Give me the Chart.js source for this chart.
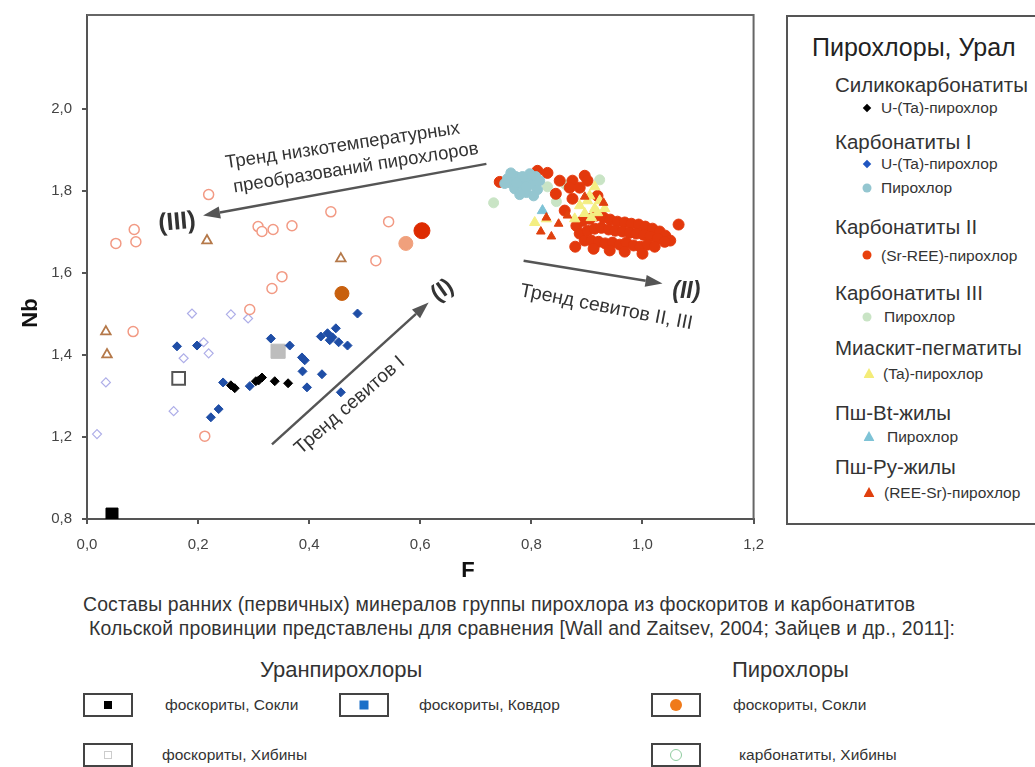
<!DOCTYPE html>
<html>
<head>
<meta charset="utf-8">
<script src="https://cdn.jsdelivr.net/npm/chart.js@4.4.1/dist/chart.umd.min.js"></script>
<style>
body { margin:0; background:#fff; width:1035px; height:767px; overflow:hidden; position:relative;
       font-family:"Liberation Sans", Arial, sans-serif; color:#222; }
#wrap { position:absolute; left:0; top:-4px; width:776px; height:594px; }
.abs { position:absolute; white-space:nowrap; line-height:1; transform:translateY(-50%); }
.lgbox { position:absolute; left:786px; top:15px; width:300px; height:510px; border:2px solid #555; box-sizing:border-box; }
.ttl { font-size:25px; color:#222; }
.grp { font-size:20.5px; color:#333; }
.itm { font-size:15.5px; color:#333; }
.mk { position:absolute; transform:translate(-50%,-50%); }
.dia { width:6px; height:6px; transform:translate(-50%,-50%) rotate(45deg); }
.cir { width:9px; height:9px; border-radius:50%; }
.tri { width:11px; height:10px; clip-path:polygon(50% 0,100% 100%,0 100%); }
.cap { font-size:19.4px; color:#333; letter-spacing:0.15px; }
.hd { font-size:22px; color:#333; }
.bl { font-size:15.5px; color:#333; }
.bx { position:absolute; width:50px; height:24px; border:2px solid #444; box-sizing:border-box; background:#fff; }
</style>
</head>
<body>
<div id="wrap"><canvas id="grafico"></canvas></div>

<!-- легенда справа -->
<div class="lgbox"></div>
<div class="abs ttl" style="left:812px;top:47px">Пирохлоры, Урал</div>
<div class="abs grp" style="left:835px;top:85px">Силикокарбонатиты</div>
<div class="mk dia" style="left:867px;top:108px;background:#000"></div>
<div class="abs itm" style="left:881px;top:108px">U-(Ta)-пирохлор</div>
<div class="abs grp" style="left:835px;top:142px">Карбонатиты I</div>
<div class="mk dia" style="left:867px;top:164px;background:#1f55c0"></div>
<div class="abs itm" style="left:881px;top:164px">U-(Ta)-пирохлор</div>
<div class="mk cir" style="left:867px;top:188px;background:#94c6d0"></div>
<div class="abs itm" style="left:881px;top:188px">Пирохлор</div>
<div class="abs grp" style="left:835px;top:227px">Карбонатиты II</div>
<div class="mk cir" style="left:867px;top:255px;background:#e8400c"></div>
<div class="abs itm" style="left:881px;top:256px">(Sr-REE)-пирохлор</div>
<div class="abs grp" style="left:835px;top:293px">Карбонатиты III</div>
<div class="mk cir" style="left:867px;top:317px;background:#c9e4c5"></div>
<div class="abs itm" style="left:884px;top:317px">Пирохлор</div>
<div class="abs grp" style="left:835px;top:348px">Миаскит-пегматиты</div>
<div class="mk tri" style="left:869px;top:373px;background:#f4ec78"></div>
<div class="abs itm" style="left:883px;top:374px">(Ta)-пирохлор</div>
<div class="abs grp" style="left:835px;top:413px">Пш-Bt-жилы</div>
<div class="mk tri" style="left:869px;top:436px;background:#7ec3d6"></div>
<div class="abs itm" style="left:887px;top:437px">Пирохлор</div>
<div class="abs grp" style="left:835px;top:467px">Пш-Ру-жилы</div>
<div class="mk tri" style="left:869px;top:492px;background:#e0400e"></div>
<div class="abs itm" style="left:884px;top:493px">(REE-Sr)-пирохлор</div>

<!-- подпись и легенда снизу -->
<div class="abs cap" style="left:83px;top:605px">Составы ранних (первичных) минералов группы пирохлора из фоскоритов и карбонатитов</div>
<div class="abs cap" style="left:89px;top:629px">Кольской провинции представлены для сравнения [Wall and Zaitsev, 2004; Зайцев и др., 2011]:</div>
<div class="abs hd" style="left:260px;top:670px">Уранпирохлоры</div>
<div class="abs hd" style="left:732px;top:670px">Пирохлоры</div>

<div class="bx" style="left:83px;top:693px"></div>
<div class="mk" style="left:108px;top:705px;width:8px;height:8px;background:#000"></div>
<div class="abs bl" style="left:165px;top:705px">фоскориты, Сокли</div>
<div class="bx" style="left:339px;top:693px"></div>
<div class="mk" style="left:364px;top:705px;width:9px;height:9px;background:#1a6fc8"></div>
<div class="abs bl" style="left:419px;top:705px">фоскориты, Ковдор</div>
<div class="bx" style="left:83px;top:743px"></div>
<div class="mk" style="left:108px;top:755px;width:8px;height:8px;border:1px solid #ccc;box-sizing:border-box"></div>
<div class="abs bl" style="left:162px;top:755px">фоскориты, Хибины</div>
<div class="bx" style="left:651px;top:693px"></div>
<div class="mk cir" style="left:676px;top:705px;width:12px;height:12px;background:#f07a1a"></div>
<div class="abs bl" style="left:733px;top:705px">фоскориты, Сокли</div>
<div class="bx" style="left:651px;top:743px"></div>
<div class="mk cir" style="left:676px;top:755px;width:12px;height:12px;border:1.5px solid #8fcc9f;box-sizing:border-box"></div>
<div class="abs bl" style="left:739px;top:755px">карбонатиты, Хибины</div>

<script>
// Шкалы
const xTicks = [0, 0.2, 0.4, 0.6, 0.8, 1.0, 1.2];
const xTickLabels = ['0,0', '0,2', '0,4', '0,6', '0,8', '1,0', '1,2'];
const yTicks = [1.0, 1.2, 1.4, 1.6, 1.8, 2.0];
const yTickLabels = ['0,8', '1,2', '1,4', '1,6', '1,8', '2,0'];

// Урал: [F, Nb]
const siliUTa = [[0.266,1.319],[0.259,1.326],[0.309,1.338],[0.315,1.345],[0.304,1.336],[0.338,1.336],[0.362,1.331]];
const carbIUTa = [[0.162,1.421],[0.198,1.423],[0.245,1.333],[0.293,1.324],[0.223,1.248],[0.237,1.268],[0.331,1.440],
  [0.365,1.423],[0.387,1.394],[0.392,1.387],[0.388,1.360],[0.396,1.321],[0.423,1.353],[0.457,1.309],[0.421,1.445],
  [0.433,1.453],[0.448,1.465],[0.437,1.436],[0.442,1.443],[0.453,1.431],[0.469,1.423],[0.487,1.501]];
const carbIPyr = [[0.757,1.830],[0.764,1.818],[0.772,1.835],[0.779,1.825],[0.786,1.813],[0.770,1.805],[0.793,1.827],
  [0.800,1.815],[0.808,1.835],[0.791,1.796],[0.779,1.791],[0.811,1.803],[0.763,1.844],[0.797,1.842],[0.815,1.825],
  [0.784,1.835],[0.804,1.788],[0.773,1.820],[0.790,1.810],[0.752,1.818]];
const carbIIPyr = [[0.743,1.822],[0.811,1.849],[0.829,1.844],[0.851,1.825],[0.874,1.825],[0.896,1.837],[0.901,1.825],
  [0.844,1.793],[0.869,1.808],[0.887,1.808],[0.874,1.781],[0.919,1.788],[0.860,1.752],
  [0.881,1.715],[0.892,1.727],[0.905,1.732],[0.917,1.740],[0.930,1.735],[0.942,1.730],[0.955,1.725],[0.968,1.723],
  [0.980,1.720],[0.993,1.718],[1.005,1.713],[1.018,1.708],[1.031,1.701],[1.041,1.691],[1.050,1.679],[1.065,1.718],
  [0.887,1.696],[0.901,1.703],[0.914,1.708],[0.926,1.710],[0.939,1.706],[0.951,1.703],[0.964,1.701],[0.977,1.698],
  [0.989,1.696],[1.002,1.693],[1.014,1.689],[1.027,1.684],[1.040,1.676],
  [0.879,1.664],[0.896,1.679],[0.908,1.679],[0.921,1.676],[0.933,1.672],[0.946,1.674],[0.959,1.669],[0.971,1.674],
  [0.984,1.667],[0.996,1.664],[1.009,1.669],[1.022,1.664],[1.000,1.647],[0.968,1.652],[0.941,1.655],[0.912,1.659]];
const carbIIIPyr = [[0.732,1.771],[0.923,1.827],[0.845,1.774],[0.862,1.815],[0.829,1.810]];
const miaskTa = [[0.887,1.764],[0.901,1.776],[0.914,1.757],[0.923,1.776],[0.896,1.745],[0.908,1.735],[0.919,1.747],
  [0.878,1.732],[0.905,1.788],[0.914,1.810],[0.806,1.723],[0.827,1.732],[0.932,1.757]];
const pshBtPyr = [[0.820,1.752]];
const pshPyREE = [[0.817,1.701],[0.836,1.689],[0.849,1.720],[0.827,1.735],[0.930,1.771],[0.896,1.786],[0.865,1.740]];

// Кольская провинция
const kolaOpenCircles = [[0.219,1.791],[0.085,1.706],[0.052,1.672],[0.088,1.676],[0.308,1.713],[0.315,1.701],
  [0.335,1.706],[0.369,1.715],[0.439,1.749],[0.543,1.725],[0.520,1.630],[0.351,1.591],[0.333,1.562],[0.293,1.511],
  [0.083,1.457],[0.212,1.202]];
const kolaOpenDiamonds = [[0.189,1.501],[0.259,1.499],[0.290,1.489],[0.210,1.431],[0.219,1.404],[0.174,1.392],
  [0.034,1.333],[0.156,1.263],[0.018,1.207]];
const kolaTriangles = [[0.034,1.457],[0.036,1.401],[0.216,1.679],[0.457,1.635]];
const soklyUranSquare = [[0.045,1.012]];
const khibinyUranSquare = [[0.165,1.343]];
const kovdorUranSquare = [[0.344,1.409]];
const soklyPyrCircle = [[0.459,1.550]];
const redBigCircle = [[0.603,1.703]];
const salmonBigCircle = [[0.574,1.672]];

// Тренды
const trendArrows = [
  { from: [0.719, 1.866], to: [0.209, 1.740] },
  { from: [0.333, 1.182], to: [0.615, 1.528] },
  { from: [0.786, 1.630], to: [1.036, 1.574] }
];
const trendLabels = [
  { text: 'Тренд низкотемпературных', at: [0.460, 1.910], angle: -8.5, font: '18.5px "Liberation Sans"' },
  { text: 'преобразований пирохлоров', at: [0.484, 1.856], angle: -9, font: '18.5px "Liberation Sans"' },
  { text: '(III)', at: [0.162, 1.723], angle: -5, font: 'bold 25px "Liberation Sans"' },
  { text: '(I)', at: [0.640, 1.557], angle: -35, font: 'bold 23px "Liberation Sans"' },
  { text: '(II)', at: [1.079, 1.555], angle: 0, font: 'italic bold 23px "Liberation Sans"' },
  { text: 'Тренд севитов I', at: [0.473, 1.277], angle: -41, font: '19px "Liberation Sans"' },
  { text: 'Тренд севитов II, III', at: [0.935, 1.516], angle: 11, font: '19.5px "Liberation Sans"' }
];

const toPts = arr => arr.map(p => ({ x: p[0], y: p[1] }));

function serie(label, arr, style, radius, fill, border, width) {
  return {
    label: label, data: toPts(arr), pointStyle: style, pointRadius: radius,
    backgroundColor: fill, borderColor: border || fill, borderWidth: width || 1, showLine: false
  };
}

function drawArrow(ctx, x1, y1, x2, y2) {
  const ang = Math.atan2(y2 - y1, x2 - x1);
  const head = 17, half = 6;
  const bx = x2 - head * Math.cos(ang), by = y2 - head * Math.sin(ang);
  ctx.strokeStyle = '#555';
  ctx.fillStyle = '#555';
  ctx.lineWidth = 2.5;
  ctx.beginPath();
  ctx.moveTo(x1, y1);
  ctx.lineTo(bx, by);
  ctx.stroke();
  ctx.beginPath();
  ctx.moveTo(x2, y2);
  ctx.lineTo(bx + half * Math.sin(ang), by - half * Math.cos(ang));
  ctx.lineTo(bx - half * Math.sin(ang), by + half * Math.cos(ang));
  ctx.closePath();
  ctx.fill();
}

const trendPlugin = {
  id: 'trends',
  afterDatasetsDraw(chart) {
    const { ctx, chartArea: a, scales: { x, y } } = chart;
    ctx.save();
    // рамка сверху и справа
    ctx.strokeStyle = '#666';
    ctx.lineWidth = 2;
    ctx.beginPath();
    ctx.moveTo(a.left, a.top);
    ctx.lineTo(a.right, a.top);
    ctx.lineTo(a.right, a.bottom);
    ctx.stroke();

    trendArrows.forEach(t => drawArrow(ctx,
      x.getPixelForValue(t.from[0]), y.getPixelForValue(t.from[1]),
      x.getPixelForValue(t.to[0]), y.getPixelForValue(t.to[1])));

    ctx.fillStyle = '#333';
    ctx.textAlign = 'center';
    ctx.textBaseline = 'middle';
    trendLabels.forEach(t => {
      ctx.save();
      ctx.translate(x.getPixelForValue(t.at[0]), y.getPixelForValue(t.at[1]));
      ctx.rotate(t.angle * Math.PI / 180);
      ctx.font = t.font;
      ctx.fillText(t.text, 0, 0);
      ctx.restore();
    });

    // названия осей (холст сдвинут на 4px вверх)
    ctx.font = 'bold 22px "Liberation Sans"';
    ctx.fillStyle = '#111';
    ctx.fillText('F', 468, 575);
    ctx.save();
    ctx.translate(31, 317);
    ctx.rotate(-Math.PI / 2);
    ctx.fillText('Nb', 0, 0);
    ctx.restore();
    ctx.restore();
  }
};

const ctx = document.getElementById('grafico').getContext('2d');
const grafico = new Chart(ctx, {
  type: 'scatter',
  data: {
    datasets: [
      serie('Пш-Ру (REE-Sr)-пирохлор', pshPyREE, 'triangle', 5, '#e0400e'),
      serie('Пш-Bt пирохлор', pshBtPyr, 'triangle', 6, '#7ec3d6'),
      serie('Миаскит-пегматиты (Ta)-пирохлор', miaskTa, 'triangle', 6, '#f4ee82'),
      serie('Карбонатиты I пирохлор', carbIPyr, 'circle', 5, '#94c6d0'),
      serie('Карбонатиты II (Sr-REE)-пирохлор', carbIIPyr, 'circle', 5.5, '#e3380c'),
      serie('Карбонатиты III пирохлор', carbIIIPyr, 'circle', 5, '#c9e4c5'),
      serie('Силикокарбонатиты U-(Ta)-пирохлор', siliUTa, 'rectRot', 4.5, '#000'),
      serie('Карбонатиты I U-(Ta)-пирохлор', carbIUTa, 'rectRot', 4.5, '#1f4ea6'),
      serie('Кола, пирохлор', kolaOpenCircles, 'circle', 5, '#fff', '#f29a84', 1.5),
      serie('Кола, уранпирохлор', kolaOpenDiamonds, 'rectRot', 4.5, '#fff', '#aeaee8', 1.2),
      serie('Кола, треугольники', kolaTriangles, 'triangle', 5.5, '#fff', '#b5794a', 1.8),
      serie('Сокли, уранпирохлор', soklyUranSquare, 'rect', 8.5, '#000'),
      serie('Хибины, уранпирохлор', khibinyUranSquare, 'rect', 9, '#fff', '#555', 2),
      serie('Ковдор, уранпирохлор', kovdorUranSquare, 'rect', 10, '#bdbdbd'),
      serie('Сокли, пирохлор', soklyPyrCircle, 'circle', 7, '#c8600e'),
      serie('red big', redBigCircle, 'circle', 8, '#dd2a00'),
      serie('salmon big', salmonBigCircle, 'circle', 7, '#f0a07c')
    ]
  },
  options: {
    responsive: true,
    maintainAspectRatio: false,
    animation: false,
    events: [],
    layout: { padding: 0 },
    plugins: { legend: { display: false }, tooltip: { enabled: false } },
    scales: {
      x: {
        type: 'linear', min: 0, max: 1.2,
        afterFit: s => { s.height = 71; },
        afterBuildTicks: s => { s.ticks = xTicks.map(v => ({ value: v })); },
        grid: { drawOnChartArea: false, tickLength: 5, color: '#555', lineWidth: 2 },
        border: { display: true, color: '#555', width: 2 },
        ticks: {
          padding: 12, color: '#444', font: { size: 15, family: '"Liberation Sans"' },
          callback: (v, i) => xTickLabels[i]
        }
      },
      y: {
        type: 'linear', min: 1.0, max: 2.229,
        afterFit: s => { s.width = 87; },
        afterBuildTicks: s => { s.ticks = yTicks.map(v => ({ value: v })); },
        grid: { drawOnChartArea: false, tickLength: 5, color: '#555', lineWidth: 2 },
        border: { display: true, color: '#555', width: 2 },
        ticks: {
          padding: 10, color: '#444', font: { size: 15, family: '"Liberation Sans"' },
          callback: (v, i) => yTickLabels[i]
        }
      }
    }
  },
  plugins: [trendPlugin]
});
</script>
</body>
</html>
